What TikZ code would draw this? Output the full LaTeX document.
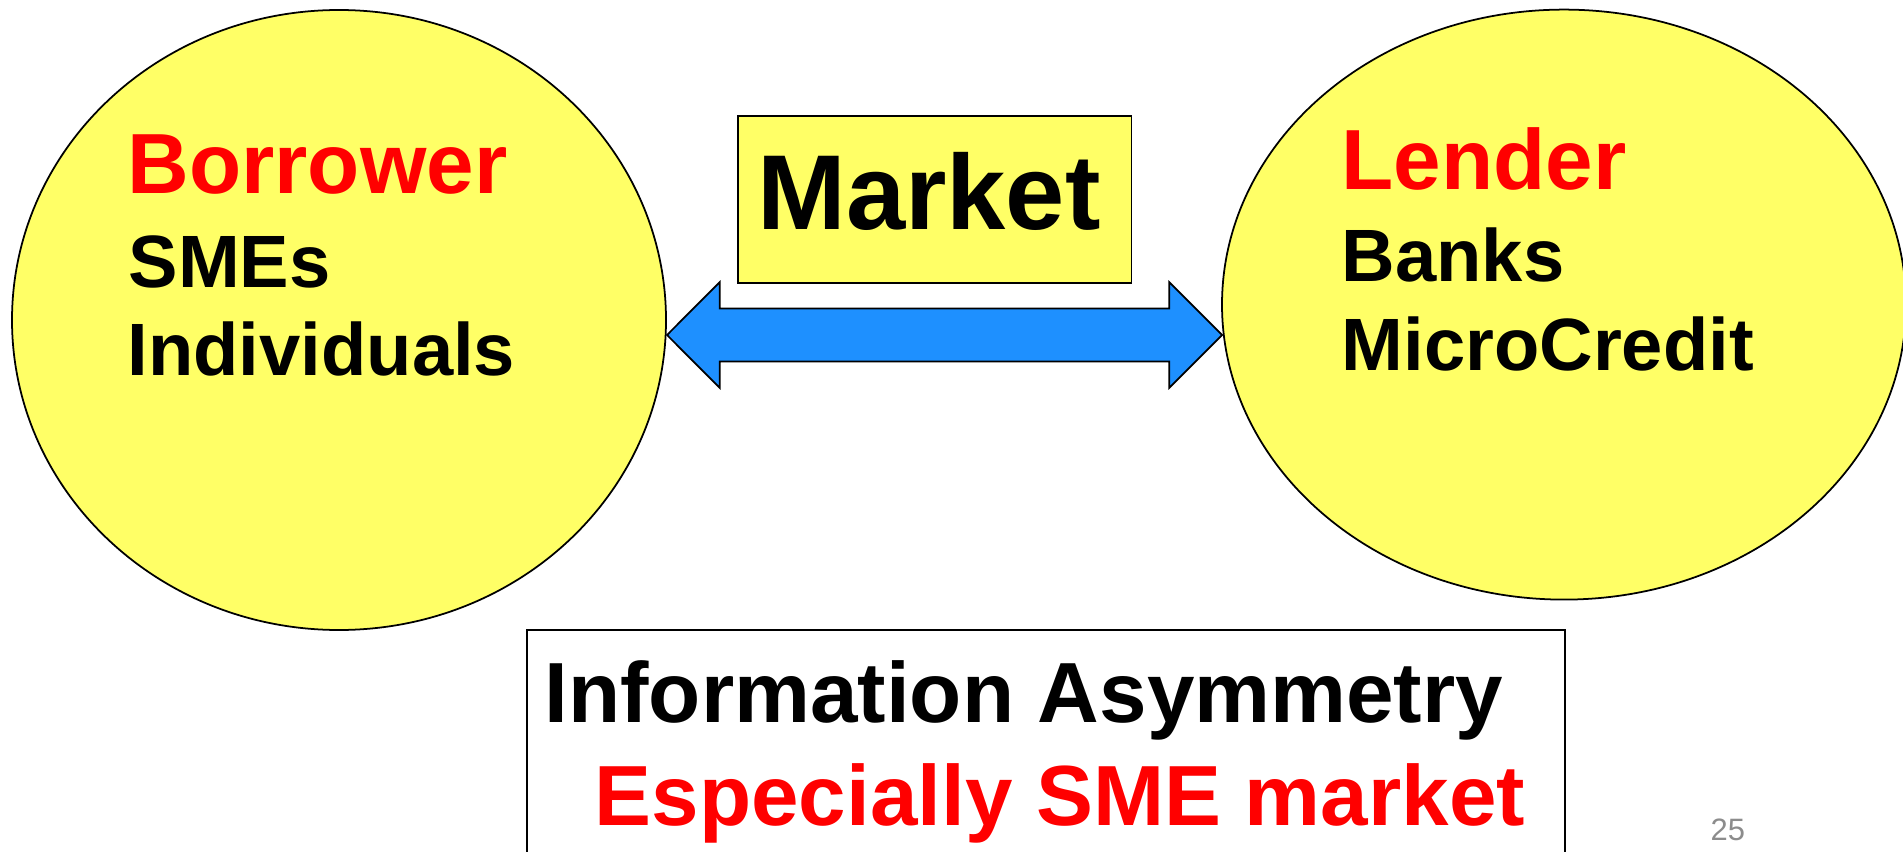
\documentclass[tikz,border=0pt]{standalone}
\usepackage{fontspec}
\setmainfont{Liberation Sans}
\usetikzlibrary{calc, shapes.geometric}

\definecolor{blobyellow}{HTML}{FFFF66}
\definecolor{flowblue}{HTML}{1E90FF}
\definecolor{numgray}{HTML}{8C8C8C}

\begin{document}
\begin{tikzpicture}[
    party/.style={ellipse, draw, fill=blobyellow, line width=0.5pt, inner sep=0pt},
    head/.style={anchor=base west, inner sep=0pt, text=red, font=\bfseries\fontsize{24.3}{29}\selectfont},
    item/.style={anchor=base west, inner sep=0pt, font=\bfseries\fontsize{21.1}{25}\selectfont},
    bigline/.style={anchor=base west, inner sep=0pt, font=\bfseries\fontsize{24.3}{29}\selectfont}
]
    \useasboundingbox (0,0) rectangle (19.03,8.51);

    % the two sides of the loan
    \node[party, minimum width=6.54cm, minimum height=6.20cm] (borrower) at (3.39,5.31) {};
    \node[party, minimum width=6.84cm, minimum height=5.90cm] (lender) at (15.64,5.464) {};

    \node[head] (borrowerhead) at (1.27,6.57) {Borrower};
    \node[item] (smes) at (1.28,5.64) {SMEs};
    \node[item] (indiv) at (1.27,4.755) {Individuals};

    \node[head] (lenderhead) at (13.41,6.612) {Lender};
    \node[item] (banks) at (13.41,5.695) {Banks};
    \node[item] (micro) at (13.41,4.801) {MicroCredit};

    % market in the middle
    \node[draw, fill=blobyellow, line width=0.5pt, minimum width=3.934cm, minimum height=1.670cm] (market) at (9.347,6.518) {};
    \node[anchor=base west, inner sep=0pt, font=\bfseries\fontsize{30.3}{36}\selectfont] (marketlbl) at (7.566,6.21) {Market};

    % double arrow between the sides
    \coordinate (lt) at (6.67,5.16);
    \coordinate (rt) at (12.22,5.16);
    \draw[fill=flowblue, line width=0.5pt, line join=miter]
        (lt) -- ++(0.527,0.528) -- ++(0,-0.263) -- ($(rt)+(-0.527,0.265)$) -- ++(0,0.263)
        -- (rt) -- ++(-0.527,-0.528) -- ++(0,0.263) -- ($(lt)+(0.527,-0.265)$) -- ++(0,-0.263) -- cycle;

    % bottom box
    \node[draw, fill=white, line width=0.5pt, minimum width=10.38cm, minimum height=2.62cm] (info) at (10.458,0.90) {};
    \node[bigline] (infoline) at (5.438,1.283) {Information Asymmetry};
    \node[bigline, text=red] (smeline) at (5.94,0.253) {Especially SME market};

    \node[anchor=base west, inner sep=0pt, text=numgray, font=\fontsize{8.8}{10}\selectfont] (pageno) at (17.10,0.11) {25};
\end{tikzpicture}
\end{document}
